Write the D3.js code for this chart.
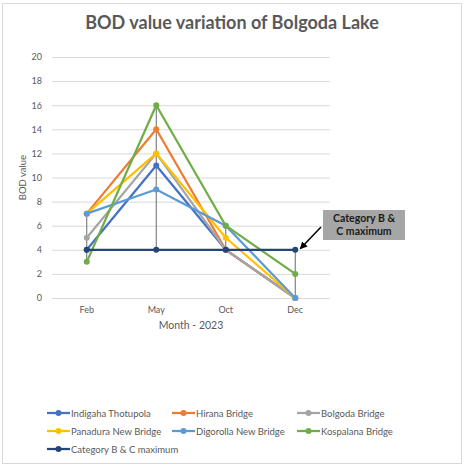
<!DOCTYPE html>
<html>
<head>
<meta charset="utf-8">
<script src="https://cdn.jsdelivr.net/npm/d3@7"></script>
<style>
  body { margin: 0; background: #fff; }
  text { font-family: Lato, "Open Sans", "Liberation Sans", sans-serif; }
</style>
</head>
<body>
<div id="chart"></div>
<script>
const months = ['Feb', 'May', 'Oct', 'Dec'];
const yTicks = [0, 2, 4, 6, 8, 10, 12, 14, 16, 18, 20];

const indigaha = [4, 11, 4, 0];
const hirana = [7, 14, 4, 0];
const bolgoda = [5, 12, 4, 0];
const panadura = [7, 12, 5, 0];
const digorolla = [7, 9, 6, 0];
const kospalana = [3, 16, 6, 2];
const categoryMax = [4, 4, 4, 4];

const seriesNames = ['Indigaha Thotupola', 'Hirana Bridge', 'Bolgoda Bridge',
  'Panadura New Bridge', 'Digorolla New Bridge', 'Kospalana Bridge', 'Category B & C maximum'];
const seriesValues = [indigaha, hirana, bolgoda, panadura, digorolla, kospalana, categoryMax];
const colors = ['#4472C4', '#ED7D31', '#A5A5A5', '#FFC000', '#5B9BD5', '#70AD47', '#264478'];

const width = 466;
const height = 467;
const margin = { top: 57, bottom: 169, left: 52, right: 136 };

const series = seriesNames.map((name, i) => ({ name, values: seriesValues[i], color: colors[i] }));

const svg = d3.select('#chart')
  .append('svg')
  .attr('width', width)
  .attr('height', height);

// chart border
svg.append('rect')
  .attr('x', 2.5).attr('y', 3.5)
  .attr('width', 459).attr('height', 460)
  .attr('fill', '#fff')
  .attr('stroke', '#D9D9D9');

const x = d3.scaleBand()
  .domain(months)
  .range([margin.left, width - margin.right]);

const y = d3.scaleLinear()
  .domain([0, 20])
  .range([height - margin.bottom, margin.top]);

const cx = m => x(m) + x.bandwidth() / 2;

// gridlines + y labels
svg.append('g')
  .attr('transform', `translate(${margin.left},0)`)
  .call(d3.axisLeft(y).tickValues(yTicks).tickSize(-(width - margin.left - margin.right)).tickPadding(10))
  .call(g => g.select('.domain').remove())
  .call(g => g.selectAll('line').attr('stroke', '#D9D9D9'))
  .call(g => g.selectAll('text').attr('fill', '#595959').attr('font-size', '9px'));

// x labels
svg.append('g')
  .attr('transform', `translate(0,${height - margin.bottom})`)
  .call(d3.axisBottom(x).tickSize(0).tickPadding(9))
  .call(g => g.select('.domain').remove())
  .call(g => g.selectAll('text').attr('fill', '#595959').attr('font-size', '9px'));

// high-low lines
svg.append('g')
  .selectAll('line')
  .data(months)
  .join('line')
  .attr('x1', cx).attr('x2', cx)
  .attr('y1', (m, j) => y(d3.max(series, s => s.values[j])))
  .attr('y2', (m, j) => y(d3.min(series, s => s.values[j])))
  .attr('stroke', '#6b6b6b')
  .attr('stroke-width', 1);

const line = d3.line()
  .x((d, j) => cx(months[j]))
  .y(d => y(d));

const sg = svg.append('g')
  .selectAll('g')
  .data(series)
  .join('g');

sg.append('path')
  .attr('d', d => line(d.values))
  .attr('fill', 'none')
  .attr('stroke', d => d.color)
  .attr('stroke-width', 2.25)
  .attr('stroke-linejoin', 'round');

sg.selectAll('circle')
  .data(d => d.values.map((v, j) => ({ v, j, color: d.color })))
  .join('circle')
  .attr('cx', d => cx(months[d.j]))
  .attr('cy', d => y(d.v))
  .attr('r', 3)
  .attr('fill', d => d.color);

// title
svg.append('text')
  .attr('x', 232).attr('y', 29)
  .attr('text-anchor', 'middle')
  .attr('font-size', '18px')
  .attr('font-weight', 'bold')
  .attr('fill', '#595959')
  .text('BOD value variation of Bolgoda Lake');

// axis titles
svg.append('text')
  .attr('transform', `translate(26,${y(10)}) rotate(-90)`)
  .attr('text-anchor', 'middle')
  .attr('font-size', '9.5px')
  .attr('fill', '#595959')
  .text('BOD value');

svg.append('text')
  .attr('x', (margin.left + width - margin.right) / 2)
  .attr('y', 329)
  .attr('text-anchor', 'middle')
  .attr('font-size', '10.5px')
  .attr('fill', '#595959')
  .text('Month - 2023');

// annotation
const ann = svg.append('g');
ann.append('rect')
  .attr('x', 323).attr('y', 210)
  .attr('width', 82).attr('height', 30)
  .attr('fill', '#A6A6A6');
ann.append('text')
  .attr('x', 364).attr('y', 222)
  .attr('text-anchor', 'middle')
  .attr('font-size', '10.5px')
  .attr('font-weight', 'bold')
  .attr('fill', '#1a1a1a')
  .selectAll('tspan')
  .data(['Category B &', 'C maximum'])
  .join('tspan')
  .attr('x', 364)
  .attr('dy', (d, i) => i === 0 ? 0 : 13)
  .text(d => d);

svg.append('defs').append('marker')
  .attr('id', 'arrow')
  .attr('viewBox', '0 0 10 10')
  .attr('refX', 9).attr('refY', 5)
  .attr('markerWidth', 5).attr('markerHeight', 5)
  .attr('orient', 'auto')
  .append('path')
  .attr('d', 'M0,0 L10,5 L0,10 z')
  .attr('fill', '#000');

svg.append('line')
  .attr('x1', 321).attr('y1', 227)
  .attr('x2', cx('Dec') + 5).attr('y2', y(categoryMax[3]) - 1)
  .attr('stroke', '#000')
  .attr('stroke-width', 1.5)
  .attr('marker-end', 'url(#arrow)');

// legend
const legendCols = [47, 172, 297];
const legend = svg.append('g')
  .selectAll('g')
  .data(series)
  .join('g')
  .attr('transform', (d, i) => `translate(${legendCols[i % 3]},${413 + Math.floor(i / 3) * 18})`);

legend.append('line')
  .attr('x1', 0).attr('x2', 23)
  .attr('stroke', d => d.color)
  .attr('stroke-width', 2.25);
legend.append('circle')
  .attr('cx', 11.5).attr('r', 3)
  .attr('fill', d => d.color);
legend.append('text')
  .attr('x', 24).attr('y', 3.5)
  .attr('font-size', '9.5px')
  .attr('fill', '#595959')
  .text(d => d.name);
</script>
</body>
</html>
